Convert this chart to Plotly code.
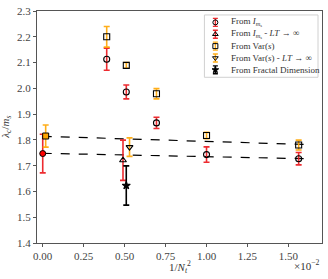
import plotly.graph_objects as go

# ---- data (x in units of 1e-2 for 1/N_t^2) ----
im_x = [0.390625, 0.5102, 0.6944, 1.0, 1.5625]
im_y = [2.113, 1.986, 1.866, 1.743, 1.727]
im_err = [0.043, 0.027, 0.022, 0.030, 0.024]
im_ext_x = [0.0]
im_ext_y = [1.747]
im_ext_err = [0.075]

var_x = [0.390625, 0.5102, 0.6944, 1.0, 1.5625]
var_y = [2.200, 2.089, 1.979, 1.817, 1.780]
var_err = [0.040, 0.011, 0.020, 0.012, 0.019]
var_ext_x = [0.018]
var_ext_y = [1.815]
var_ext_err = [0.043]

im_lt_x = [0.49]
im_lt_y = [1.721]
im_lt_err = [0.078]

var_lt_x = [0.53]
var_lt_y = [1.772]
var_lt_err = [0.036]

fd_x = [0.51]
fd_y = [1.623]
fd_err = [0.076]

fit_x = [0.0, 1.61]
fit_var_y = [1.814, 1.782]
fit_im_y = [1.748, 1.727]

xticks = [0, 0.25, 0.5, 0.75, 1.0, 1.25, 1.5]
yticks = [1.4, 1.5, 1.6, 1.7, 1.8, 1.9, 2.0, 2.1, 2.2, 2.3]

legend_labels = [
    "From <i>I</i><sub><i>m</i><sub>s</sub></sub>",
    "From <i>I</i><sub><i>m</i><sub>s</sub></sub> - <i>LT</i> → ∞",
    "From Var(<i>s</i>)",
    "From Var(<i>s</i>) - <i>LT</i> → ∞",
    "From Fractal Dimension",
]

RED = "rgba(235,20,25,0.9)"
ORANGE = "rgba(255,165,0,0.9)"
FONT = "Liberation Serif"

# plot area in pixels (for the legend overlay)
PL, PR, PT, PB = 37, 323, 9, 243.5

fig = go.Figure()

# fit lines
for fy in (fit_var_y, fit_im_y):
    fig.add_trace(go.Scatter(x=fit_x, y=fy, mode="lines", showlegend=False,
                             line=dict(color="black", width=1.2, dash="dash")))

def eb(color, arr, width=3):
    return dict(type="data", array=arr, visible=True, color=color, thickness=1.6, width=width)

series = [
    (im_x, im_y, im_err, RED, "circle-open", 6, "black"),
    (im_lt_x, im_lt_y, im_lt_err, RED, "triangle-up-open", 6, "black"),
    (var_x, var_y, var_err, ORANGE, "square-open", 6, "black"),
    (var_lt_x, var_lt_y, var_lt_err, ORANGE, "triangle-down-open", 6, "black"),
    (fd_x, fd_y, fd_err, "black", "star", 6, "black"),
]
for sx, sy, se, col, sym, sz, mc in series:
    fig.add_trace(go.Scatter(x=sx, y=sy, mode="markers", showlegend=False,
                             error_y=eb(col, se),
                             marker=dict(symbol=sym, size=sz, color=mc, line=dict(width=1.1, color="black"))))

# extrapolated points
fig.add_trace(go.Scatter(x=im_ext_x, y=im_ext_y, mode="markers", showlegend=False,
                         error_y=eb(RED, im_ext_err),
                         marker=dict(symbol="circle", size=6, color="red", line=dict(width=1, color="black"))))
fig.add_trace(go.Scatter(x=var_ext_x, y=var_ext_y, mode="markers", showlegend=False,
                         error_y=eb(ORANGE, var_ext_err),
                         marker=dict(symbol="square", size=6, color="orange", line=dict(width=1, color="black"))))

# ---- manual legend on an overlay axis measured in pixels ----
leg_x0, leg_x1, leg_y0, leg_y1 = 205, 319, 13, 76
row_y0, row_dy = 20.5, 12
mark_x, text_x = 216, 230
annotations = []
for i, (lab, s) in enumerate(zip(legend_labels, series)):
    ry = row_y0 + i * row_dy
    fig.add_trace(go.Scatter(x=[mark_x], y=[ry], mode="markers", showlegend=False,
                             xaxis="x2", yaxis="y2", hoverinfo="skip",
                             error_y=dict(type="constant", value=4, visible=True, color=s[3],
                                          thickness=1.4, width=2.5),
                             marker=dict(symbol=s[4], size=5, color=s[6],
                                         line=dict(width=1, color="black"))))
    annotations.append(dict(text=lab, xref="x2", yref="y2", x=text_x, y=ry,
                            xanchor="left", yanchor="middle", showarrow=False,
                            font=dict(family=FONT, size=9, color="#333")))

shapes = [dict(type="rect", xref="x2", yref="y2", x0=leg_x0, x1=leg_x1, y0=leg_y0, y1=leg_y1,
               line=dict(color="#d0d0d0", width=1), fillcolor="rgba(255,255,255,0.9)", layer="below")]

axis_common = dict(showgrid=False, zeroline=False, showline=True, linecolor="#555", linewidth=1,
                   mirror=True, ticks="outside", ticklen=3, tickwidth=1, tickcolor="#555",
                   tickfont=dict(family=FONT, size=11, color="#444"))

fig.update_xaxes(range=[-0.035, 1.705], tickvals=xticks,
                 ticktext=[f"{v:.2f}" for v in xticks], **axis_common)
fig.update_yaxes(range=[1.4, 2.3], tickvals=yticks,
                 ticktext=[f"{v:.1f}" for v in yticks], **axis_common)

annotations += [
    dict(text="1/<i>N</i><sub><i>t</i></sub><sup>2</sup>", xref="paper", yref="paper",
         x=0.5, y=-0.104, xanchor="center", yanchor="middle", showarrow=False,
         font=dict(family=FONT, size=11, color="#333")),
    dict(text="×10<sup>−2</sup>", xref="paper", yref="paper",
         x=1.0, y=-0.094, xanchor="right", yanchor="middle", showarrow=False,
         font=dict(family=FONT, size=11, color="#333")),
    dict(text="<i>λ</i><sub><i>c</i></sub>/<i>m</i><sub><i>s</i></sub>", xref="paper", yref="paper",
         x=-0.11, y=0.5, xanchor="center", yanchor="middle", textangle=-90, showarrow=False,
         font=dict(family=FONT, size=11, color="#333")),
]

fig.update_layout(
    width=328, height=279,
    margin=dict(l=PL, r=328 - PR, t=PT, b=279 - PB),
    paper_bgcolor="white", plot_bgcolor="white",
    font=dict(family=FONT, color="#333"),
    showlegend=False,
    xaxis2=dict(overlaying="x", anchor="y2", range=[PL, PR], visible=False, fixedrange=True),
    yaxis2=dict(overlaying="y", anchor="x2", range=[PB, PT], visible=False, fixedrange=True),
    annotations=annotations,
    shapes=shapes,
)

fig.write_html("out.html", config={"displayModeBar": False},
               post_script="document.body.style.margin='0px';")
